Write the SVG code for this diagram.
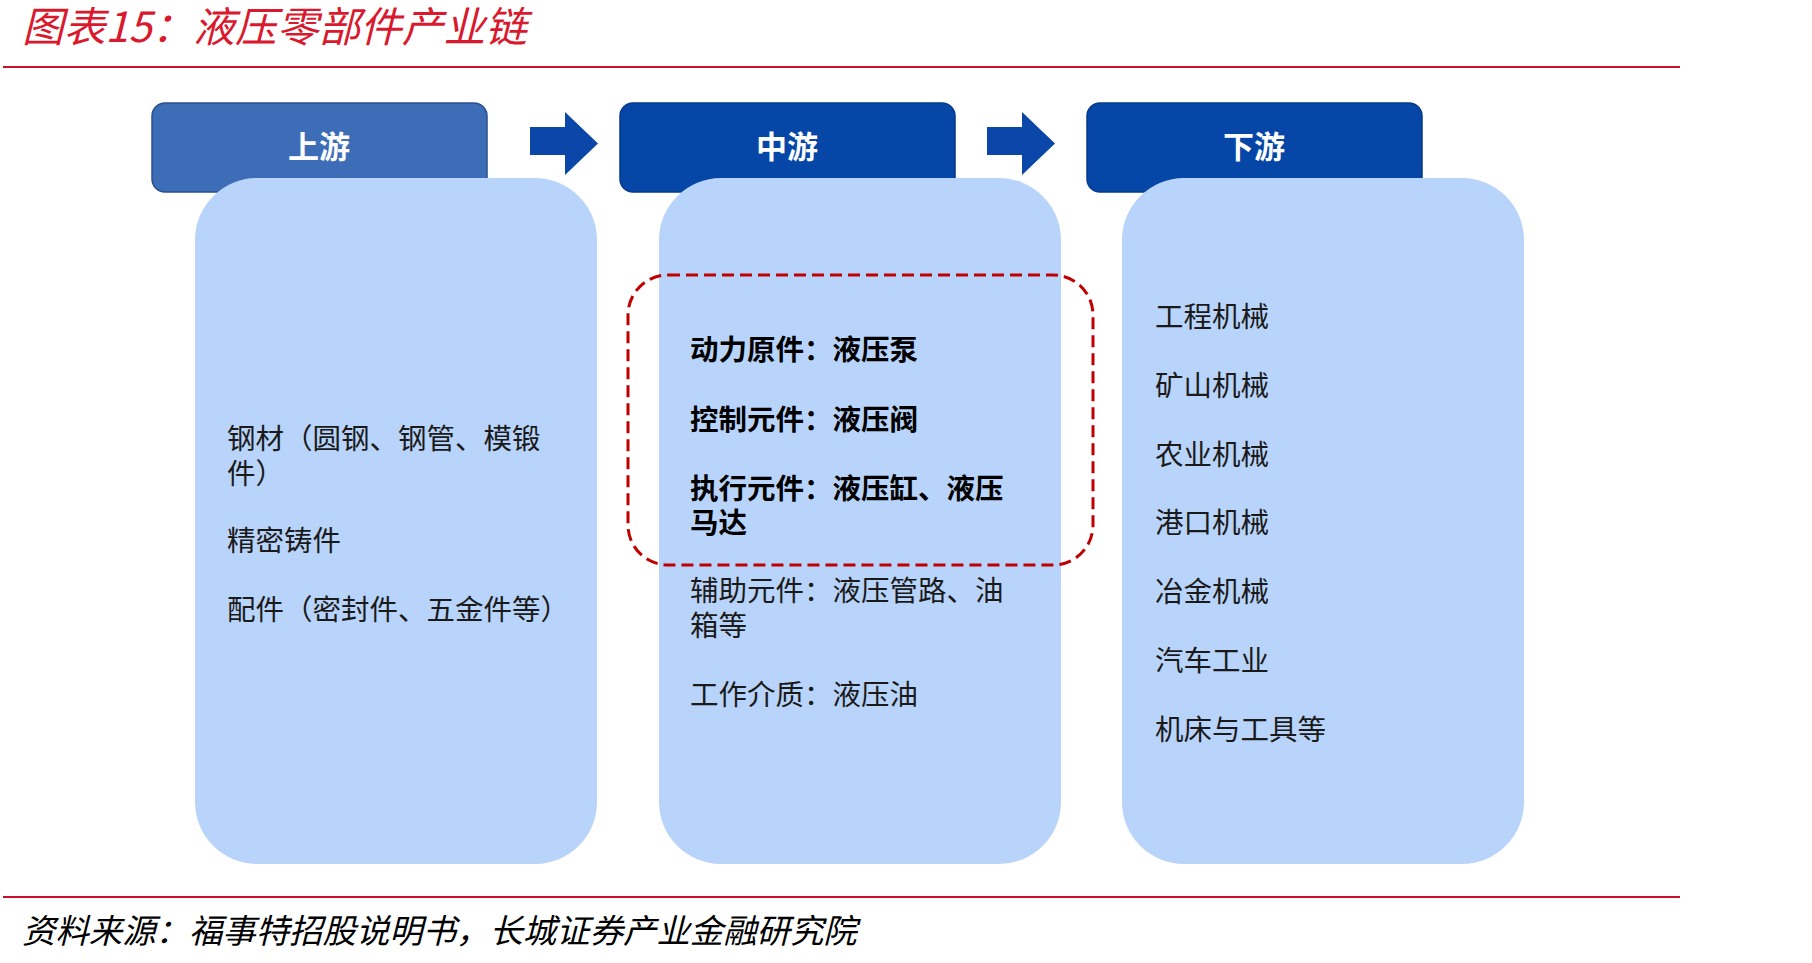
<svg xmlns="http://www.w3.org/2000/svg" width="1812" height="963" viewBox="0 0 1812 963">
<style>
text{font-family:"Noto Sans CJK SC","Liberation Sans",sans-serif;}
.title{font-size:41.7px;font-style:italic;fill:#D9192E;}
.src{font-size:33.4px;font-style:italic;fill:#000;}
.rule{stroke:#C8102E;stroke-width:2;}
.hdr-text{font-size:31px;font-weight:bold;fill:#fff;text-anchor:middle;}
.body{fill:#B9D4FA;}
.item{font-size:28.5px;fill:#1a1a1a;}
.bold{font-weight:bold;fill:#000;}
.arrow{fill:#0A47A8;}
</style>
<rect width="1812" height="963" fill="#fff"/>
<text class="title" x="22" y="42">图表15：液压零部件产业链</text>
<line class="rule" x1="3" y1="67" x2="1680" y2="67"/>

<g id="upstream-header">
<rect x="152" y="103" width="335" height="89" rx="13" fill="#3E6DB8" stroke="#2B4F8C" stroke-width="1.5"/>
<text class="hdr-text" x="319" y="158">上游</text>
</g>
<g id="midstream-header">
<rect x="620" y="103" width="335" height="89" rx="13" fill="#0646A6" stroke="#053A8C" stroke-width="1.5"/>
<text class="hdr-text" x="787" y="158">中游</text>
</g>
<g id="downstream-header">
<rect x="1087" y="103" width="335" height="89" rx="13" fill="#0646A6" stroke="#053A8C" stroke-width="1.5"/>
<text class="hdr-text" x="1254" y="158">下游</text>
</g>

<g id="connectors">
<polygon class="arrow" points="530,127 565,127 565,112 598,143.5 565,175 565,155 530,155"/>
<polygon class="arrow" points="987,127 1022,127 1022,112 1055,143.5 1022,175 1022,155 987,155"/>
</g>

<g id="upstream-body">
<rect class="body" x="195" y="178" width="402" height="686" rx="62"/>
<text class="item" x="227" y="449">钢材（圆钢、钢管、模锻<tspan x="227" y="484">件）</tspan></text>
<text class="item" x="227" y="551">精密铸件</text>
<text class="item" x="227" y="620">配件（密封件、五金件等）</text>
</g>

<g id="midstream-body">
<rect class="body" x="659" y="178" width="402" height="686" rx="62"/>
<text class="item" x="690" y="601">辅助元件：液压管路、油<tspan x="690" y="636">箱等</tspan></text>
<text class="item" x="690" y="705">工作介质：液压油</text>
</g>

<g id="core-components">
<rect x="628" y="275" width="465" height="290" rx="40" fill="none" stroke="#C00000" stroke-width="3" stroke-dasharray="12 6"/>
<text class="item bold" x="690" y="360">动力原件：液压泵</text>
<text class="item bold" x="690" y="430">控制元件：液压阀</text>
<text class="item bold" x="690" y="499">执行元件：液压缸、液压<tspan x="690" y="533">马达</tspan></text>
</g>

<g id="downstream-body">
<rect class="body" x="1122" y="178" width="402" height="686" rx="62"/>
<text class="item" x="1155" y="327">工程机械</text>
<text class="item" x="1155" y="396">矿山机械</text>
<text class="item" x="1155" y="465">农业机械</text>
<text class="item" x="1155" y="533">港口机械</text>
<text class="item" x="1155" y="602">冶金机械</text>
<text class="item" x="1155" y="671">汽车工业</text>
<text class="item" x="1155" y="740">机床与工具等</text>
</g>

<line class="rule" x1="3" y1="897" x2="1680" y2="897"/>
<text class="src" x="22" y="943">资料来源：福事特招股说明书，长城证券产业金融研究院</text>
</svg>
